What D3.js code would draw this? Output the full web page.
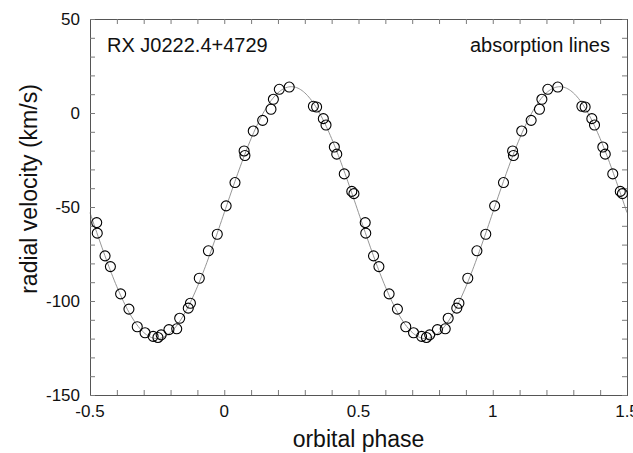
<!DOCTYPE html>
<html>
<head>
<meta charset="utf-8">
<script src="https://cdn.jsdelivr.net/npm/d3@7"></script>
<style>
  body { margin: 0; background: #fff; }
  svg { display: block; font-family: 'Liberation Sans', Arial, sans-serif; }
</style>
</head>
<body>
<div id="rv-chart"></div>
<script>
// measured points, one orbit (phase in [-0.5, 0.5)); plotted again at phase + 1
const phases = [-0.475, -0.473, -0.444, -0.424, -0.386, -0.355, -0.324, -0.295, -0.265, -0.247,
  -0.235, -0.206, -0.177, -0.166, -0.134, -0.126, -0.093, -0.059, -0.026, 0.007,
  0.040, 0.074, 0.077, 0.108, 0.143, 0.174, 0.183, 0.205, 0.242, 0.332,
  0.344, 0.369, 0.379, 0.410, 0.419, 0.447, 0.475, 0.483];
const velocities = [-58.3, -63.9, -76.0, -81.7, -96.2, -104.3, -113.7, -116.9, -118.8, -119.4,
  -118.0, -115.2, -114.8, -109.2, -103.8, -101.2, -87.9, -73.3, -64.5, -49.4,
  -37.0, -20.2, -22.6, -9.6, -3.9, 2.0, 7.3, 12.6, 13.8, 3.6,
  3.2, -3.0, -6.4, -18.1, -21.9, -32.4, -41.7, -42.9];

// sine fit: v = gamma + K sin(2 pi phase)
const gamma = -53;
const semiAmplitude = 67;

const xTicks = [-0.5, 0, 0.5, 1, 1.5];
const xTickLabels = ['-0.5', '0', '0.5', '1', '1.5'];
const yTicks = [-150, -100, -50, 0, 50];

const width = 633;
const height = 453;
const margin = {top: 19, right: 6, bottom: 58, left: 90};

const svg = d3.select('#rv-chart')
  .append('svg')
    .attr('width', width)
    .attr('height', height)
    .attr('viewBox', [0, 0, width, height]);

const x = d3.scaleLinear()
  .domain([-0.5, 1.5])
  .range([margin.left, width - margin.right]);

const y = d3.scaleLinear()
  .domain([-150, 50])
  .range([height - margin.bottom, margin.top]);

// fitted curve
const curve = d3.range(0, 401).map(i => {
  const p = -0.5 + i * 2 / 400;
  return [p, gamma + semiAmplitude * Math.sin(2 * Math.PI * p)];
});

svg.append('path')
  .datum(curve)
  .attr('fill', 'none')
  .attr('stroke', '#8a8a8a')
  .attr('stroke-width', 0.9)
  .attr('d', d3.line().x(d => x(d[0])).y(d => y(d[1])));

// frame and inward ticks on all four sides
const tickColor = '#7a7a7a';
const tickLen = 5;
const minorX = d3.range(-5, 16).map(i => i / 10);
const minorY = d3.range(-150, 51, 10);

const axes = svg.append('g').attr('class', 'axes');

axes.append('g')
  .attr('transform', `translate(0, ${y(-150)})`)
  .call(d3.axisBottom(x).tickValues(minorX).tickSize(-tickLen).tickFormat(''));
axes.append('g')
  .attr('transform', `translate(0, ${y(50)})`)
  .call(d3.axisTop(x).tickValues(minorX).tickSize(-tickLen).tickFormat(''));
axes.append('g')
  .attr('transform', `translate(${x(-0.5)}, 0)`)
  .call(d3.axisLeft(y).tickValues(minorY).tickSize(-tickLen).tickFormat(''));
axes.append('g')
  .attr('transform', `translate(${x(1.5)}, 0)`)
  .call(d3.axisRight(y).tickValues(minorY).tickSize(-tickLen).tickFormat(''));

axes.selectAll('.domain')
  .attr('stroke', '#555')
  .attr('stroke-width', 1);
axes.selectAll('.tick line')
  .attr('stroke', tickColor)
  .attr('stroke-width', 1);

// tick labels
svg.append('g')
  .selectAll('text')
  .data(xTicks)
  .join('text')
    .attr('x', d => x(d))
    .attr('y', y(-150) + 22)
    .attr('text-anchor', 'middle')
    .attr('font-size', 17)
    .attr('fill', '#111')
    .text((d, i) => xTickLabels[i]);

svg.append('g')
  .selectAll('text')
  .data(yTicks)
  .join('text')
    .attr('x', x(-0.5) - 10)
    .attr('y', d => y(d))
    .attr('dy', '0.35em')
    .attr('text-anchor', 'end')
    .attr('font-size', 17)
    .attr('fill', '#111')
    .text(d => d);

// data points
const points = [];
phases.forEach((p, i) => {
  points.push({phase: p, v: velocities[i]});
  points.push({phase: p + 1, v: velocities[i]});
});

svg.append('g')
  .selectAll('circle')
  .data(points)
  .join('circle')
    .attr('cx', d => x(d.phase))
    .attr('cy', d => y(d.v))
    .attr('r', 5)
    .attr('fill', 'none')
    .attr('stroke', '#000')
    .attr('stroke-width', 1.1);

// labels
svg.append('text')
  .text('orbital phase')
  .attr('x', (x(-0.5) + x(1.5)) / 2)
  .attr('y', 447)
  .attr('text-anchor', 'middle')
  .attr('font-size', 23)
  .attr('fill', '#111');

svg.append('text')
  .text('radial velocity (km/s)')
  .attr('transform', `translate(37, ${(y(-150) + y(50)) / 2 - 18}) rotate(-90)`)
  .attr('text-anchor', 'middle')
  .attr('font-size', 23)
  .attr('fill', '#111');

svg.append('text')
  .text('RX J0222.4+4729')
  .attr('x', 107)
  .attr('y', 52)
  .attr('font-size', 20)
  .attr('fill', '#111');

svg.append('text')
  .text('absorption lines')
  .attr('x', 610)
  .attr('y', 52)
  .attr('text-anchor', 'end')
  .attr('font-size', 20)
  .attr('fill', '#111');
</script>
</body>
</html>
